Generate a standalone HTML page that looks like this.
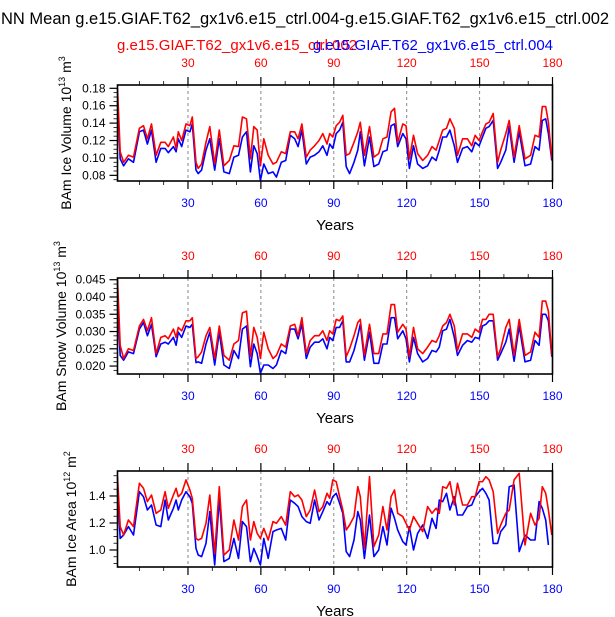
<!DOCTYPE html>
<html><head><meta charset="utf-8"><style>
html,body{margin:0;padding:0;background:#fff;width:615px;height:617px;overflow:hidden}
svg{display:block;font-family:"Liberation Sans",sans-serif}
</style></head><body>
<svg id="chart" width="615" height="617" xmlns="http://www.w3.org/2000/svg">
<text x="1" y="24" font-size="16.5" fill="#000">NN Mean g.e15.GIAF.T62_gx1v6.e15_ctrl.004-g.e15.GIAF.T62_gx1v6.e15_ctrl.002</text>
<text x="117" y="50" font-size="15" fill="#ff0000">g.e15.GIAF.T62_gx1v6.e15_ctrl.002</text>
<text x="553" y="50" font-size="15" fill="#0000ff" text-anchor="end">g.e15.GIAF.T62_gx1v6.e15_ctrl.004</text>
</svg>
<script>
const years=[1,2.1,3.5,5.5,7.6,10,11.7,13.3,15,16.9,18.8,20.6,21.9,24,25.1,26,27.4,29.2,30.8,31.8,33.3,34.2,35.6,37.4,39,41,42.9,44.8,47,48.9,50.8,52.4,54.1,55.7,57.1,58.5,59.8,61.2,63,65,66.4,68.4,70.2,72.1,73.9,75.3,76.9,78.7,80.3,82.1,83.9,85.5,87.2,88.3,89.6,91,92.4,93.7,95.1,96.5,98.3,99.9,100.9,102.6,104.7,106.5,108.5,110.2,111.9,113.6,115,116.3,118.4,119.7,121.1,122.8,124.5,126.6,128.6,130.4,132.1,133.4,134.8,136.4,137.8,139.6,140.9,143,145,146.8,148.2,149.8,151.2,152.6,153.9,155.6,157.4,158.7,160.8,162.2,164.2,166.3,168.7,171,172.8,174.5,175.8,177.2,178.3,179.7];
const xTicks=[30,60,90,120,150,180];
const iceVolRed=[0.180,0.107,0.095,0.103,0.101,0.134,0.137,0.122,0.139,0.103,0.118,0.118,0.113,0.124,0.111,0.130,0.120,0.139,0.137,0.147,0.095,0.088,0.093,0.118,0.136,0.093,0.132,0.091,0.097,0.114,0.113,0.147,0.145,0.099,0.136,0.132,0.091,0.122,0.103,0.093,0.095,0.107,0.105,0.130,0.130,0.122,0.139,0.101,0.109,0.114,0.120,0.128,0.116,0.128,0.124,0.137,0.141,0.149,0.103,0.105,0.118,0.130,0.141,0.103,0.136,0.101,0.105,0.122,0.124,0.153,0.157,0.118,0.139,0.137,0.099,0.126,0.105,0.097,0.103,0.113,0.109,0.120,0.132,0.134,0.145,0.134,0.103,0.122,0.122,0.114,0.126,0.120,0.130,0.139,0.141,0.151,0.095,0.109,0.128,0.143,0.101,0.137,0.099,0.103,0.126,0.124,0.159,0.159,0.141,0.099];
const iceVolBlue=[0.164,0.099,0.091,0.099,0.095,0.130,0.132,0.116,0.132,0.095,0.111,0.111,0.106,0.113,0.107,0.122,0.113,0.132,0.130,0.139,0.086,0.082,0.086,0.109,0.122,0.086,0.122,0.084,0.082,0.101,0.103,0.124,0.130,0.084,0.114,0.105,0.074,0.093,0.082,0.084,0.078,0.095,0.097,0.126,0.122,0.113,0.132,0.093,0.101,0.103,0.107,0.114,0.103,0.116,0.111,0.128,0.132,0.141,0.090,0.082,0.095,0.109,0.130,0.091,0.124,0.090,0.093,0.107,0.109,0.137,0.139,0.113,0.128,0.122,0.088,0.114,0.093,0.088,0.091,0.101,0.097,0.109,0.124,0.124,0.132,0.114,0.095,0.111,0.113,0.107,0.118,0.114,0.124,0.134,0.136,0.143,0.088,0.095,0.109,0.136,0.095,0.130,0.091,0.093,0.113,0.109,0.143,0.145,0.128,0.097];
const snowVolRed=[0.0450,0.0260,0.0222,0.0250,0.0245,0.0316,0.0335,0.0302,0.0340,0.0236,0.0283,0.0288,0.0279,0.0307,0.0283,0.0312,0.0302,0.0331,0.0331,0.0340,0.0222,0.0227,0.0241,0.0288,0.0312,0.0222,0.0316,0.0231,0.0217,0.0264,0.0274,0.0354,0.0359,0.0227,0.0312,0.0283,0.0222,0.0298,0.0250,0.0222,0.0231,0.0264,0.0255,0.0316,0.0321,0.0288,0.0340,0.0236,0.0274,0.0288,0.0288,0.0302,0.0274,0.0302,0.0293,0.0335,0.0331,0.0345,0.0227,0.0250,0.0288,0.0326,0.0335,0.0231,0.0321,0.0236,0.0236,0.0293,0.0293,0.0378,0.0378,0.0298,0.0321,0.0307,0.0227,0.0312,0.0250,0.0236,0.0255,0.0274,0.0269,0.0288,0.0316,0.0326,0.0350,0.0316,0.0245,0.0293,0.0293,0.0283,0.0307,0.0298,0.0335,0.0335,0.0350,0.0350,0.0227,0.0250,0.0312,0.0335,0.0231,0.0335,0.0231,0.0241,0.0298,0.0283,0.0388,0.0388,0.0359,0.0231];
const snowVolBlue=[0.0383,0.0231,0.0217,0.0241,0.0236,0.0307,0.0326,0.0288,0.0321,0.0227,0.0264,0.0269,0.0264,0.0283,0.0260,0.0298,0.0283,0.0316,0.0312,0.0321,0.0210,0.0212,0.0208,0.0264,0.0298,0.0203,0.0298,0.0203,0.0193,0.0245,0.0222,0.0307,0.0316,0.0198,0.0264,0.0236,0.0179,0.0203,0.0203,0.0193,0.0203,0.0245,0.0236,0.0307,0.0307,0.0279,0.0321,0.0222,0.0255,0.0269,0.0269,0.0279,0.0250,0.0283,0.0274,0.0312,0.0312,0.0331,0.0212,0.0212,0.0245,0.0288,0.0321,0.0217,0.0298,0.0208,0.0208,0.0264,0.0264,0.0340,0.0340,0.0279,0.0302,0.0279,0.0212,0.0283,0.0236,0.0212,0.0222,0.0245,0.0241,0.0255,0.0302,0.0307,0.0335,0.0283,0.0231,0.0260,0.0274,0.0269,0.0283,0.0279,0.0316,0.0321,0.0331,0.0331,0.0217,0.0236,0.0269,0.0307,0.0214,0.0316,0.0212,0.0217,0.0274,0.0260,0.0350,0.0350,0.0331,0.0227];
const iceAreaRed=[1.543,1.173,1.111,1.222,1.173,1.494,1.457,1.358,1.407,1.272,1.296,1.432,1.309,1.407,1.457,1.395,1.420,1.519,1.444,1.383,1.086,1.074,1.086,1.198,1.407,0.975,1.469,0.963,1.000,1.222,1.074,1.321,1.370,1.074,1.210,1.123,1.086,1.160,1.074,1.210,1.198,1.247,1.185,1.432,1.395,1.407,1.370,1.247,1.296,1.444,1.284,1.321,1.420,1.383,1.519,1.506,1.395,1.296,1.148,1.185,1.247,1.469,1.395,1.012,1.543,1.025,1.111,1.321,1.148,1.395,1.444,1.272,1.247,1.198,1.148,1.247,1.198,1.136,1.321,1.272,1.309,1.272,1.469,1.457,1.506,1.333,1.494,1.333,1.333,1.395,1.395,1.506,1.506,1.543,1.519,1.432,1.123,1.185,1.272,1.296,1.519,1.568,1.037,1.272,1.185,1.235,1.469,1.420,1.296,1.111];
const iceAreaBlue=[1.444,1.086,1.111,1.173,1.111,1.432,1.395,1.296,1.333,1.185,1.173,1.370,1.222,1.309,1.370,1.296,1.370,1.432,1.395,1.346,1.012,0.963,0.951,1.049,1.284,0.889,1.383,0.914,0.938,1.086,0.938,1.210,1.173,0.914,1.012,0.951,0.889,1.086,0.938,1.136,1.148,1.160,1.074,1.370,1.346,1.321,1.247,1.210,1.198,1.370,1.222,1.284,1.358,1.333,1.395,1.420,1.346,1.272,0.988,0.951,1.074,1.284,1.222,0.938,1.259,0.951,1.000,1.173,1.037,1.309,1.235,1.148,1.062,1.037,1.173,1.000,1.123,1.185,1.086,1.235,1.160,1.370,1.358,1.420,1.296,1.395,1.259,1.259,1.321,1.333,1.395,1.432,1.457,1.420,1.370,1.049,1.049,1.136,1.185,1.469,1.481,0.988,1.111,1.074,1.074,1.358,1.309,1.222,1.037];
const p1Ticks=[0.08,0.10,0.12,0.14,0.16,0.18];
const p2Ticks=[0.020,0.025,0.030,0.035,0.040,0.045];
const p3Ticks=[1.0,1.2,1.4];

const NS='http://www.w3.org/2000/svg';
const svg=document.getElementById('chart');
function mk(tag,attrs,parent){const e=document.createElementNS(NS,tag);for(const k in attrs)e.setAttribute(k,attrs[k]);(parent||svg).appendChild(e);return e;}
const X0=117.5,X1=552.5,XMIN=1,XMAX=180;
function xs(v){return X0+(v-XMIN)/(XMAX-XMIN)*(X1-X0);}

function panel(cfg){
  const g=mk('g',{});
  
  
  const top=cfg.top,bot=top+96;
  const ys=v=>bot-(v-cfg.ymin)/(cfg.ymax-cfg.ymin)*(bot-top);
  xTicks.forEach(t=>{if(t<180){const l=mk('line',{x1:xs(t),x2:xs(t),y1:top,y2:bot,stroke:'#888','stroke-width':1,'stroke-dasharray':'3,3'},g);
    
    }});
  [[cfg.red,'#ff0000','series-red'],[cfg.blue,'#0000ff','series-blue']].reverse().forEach(([arr,c,n])=>{
    const n2=Math.min(arr.length,years.length);let d='';
    for(let i=0;i<n2;i++){let v=Math.max(cfg.ymin,Math.min(cfg.ymax,arr[i]));d+=(i?'L':'M')+xs(years[i]).toFixed(1)+','+ys(v).toFixed(1);}
    const p=mk('path',{d:d,fill:'none',stroke:c,'stroke-width':1.6,'stroke-linejoin':'round'},g);
    
    
  });
  const r=mk('rect',{x:X0,y:top,width:X1-X0,height:bot-top,fill:'none',stroke:'#000','stroke-width':1.6},g);
  
  
  for(let t=10;t<=180;t+=10){const maj=t%30===0;const L=maj?8:4;
    mk('line',{x1:xs(t),x2:xs(t),y1:top-L,y2:top,stroke:'#000','stroke-width':maj?1.2:0.8},g);
    mk('line',{x1:xs(t),x2:xs(t),y1:bot,y2:bot+L,stroke:'#000','stroke-width':maj?1.2:0.8},g);}
  xTicks.forEach(t=>{
    const a=mk('text',{x:xs(t),y:top-18,'font-size':12,fill:'#ff0000','text-anchor':'middle'},g);a.textContent=t;
    
    
    const b=mk('text',{x:xs(t),y:bot+26,'font-size':12,fill:'#0000ff','text-anchor':'middle'},g);b.textContent=t;
    
    
  });
  const xt=mk('text',{x:335,y:bot+49,'font-size':15,fill:'#000','text-anchor':'middle'},g);xt.textContent='Years';
  
  
  const step=(cfg.ticks[1]-cfg.ticks[0])/4;
  for(let v=cfg.ticks[0]-4*step;v<=cfg.ymax+1e-9;v+=step){if(v<cfg.ymin-1e-9)continue;
    const maj=cfg.ticks.some(t=>Math.abs(t-v)<1e-9);const L=maj?8:4;
    mk('line',{x1:X0-L,x2:X0,y1:ys(v),y2:ys(v),stroke:'#000','stroke-width':maj?1.2:0.8},g);}
  cfg.ticks.forEach(t=>{const a=mk('text',{x:X0-12,y:ys(t)+4,'font-size':12,fill:'#000','text-anchor':'end'},g);
    a.textContent=t.toFixed(cfg.dec);
    
    });
  const cy=(top+bot)/2;
  const yt=mk('text',{x:0,y:0,'font-size':14,fill:'#000','text-anchor':'middle',transform:`translate(${cfg.tx},${cy}) rotate(-90)`},g);
  yt.innerHTML=cfg.title;
  
  
}
panel({name:'ice-volume-panel',top:85,ymin:0.0735,ymax:0.1838,red:iceVolRed,blue:iceVolBlue,ticks:p1Ticks,dec:2,tx:71,
  title:'BAm Ice Volume 10<tspan font-size="9" dy="-6">13</tspan><tspan dy="6"> m</tspan><tspan font-size="9" dy="-6">3</tspan>'});
panel({name:'snow-volume-panel',top:278,ymin:0.0177,ymax:0.0455,red:snowVolRed,blue:snowVolBlue,ticks:p2Ticks,dec:3,tx:66,
  title:'BAm Snow Volume 10<tspan font-size="9" dy="-6">13</tspan><tspan dy="6"> m</tspan><tspan font-size="9" dy="-6">3</tspan>'});
panel({name:'ice-area-panel',top:471,ymin:0.874,ymax:1.585,red:iceAreaRed,blue:iceAreaBlue,ticks:p3Ticks,dec:1,tx:76,
  title:'BAm Ice Area 10<tspan font-size="9" dy="-6">12</tspan><tspan dy="6"> m</tspan><tspan font-size="9" dy="-6">2</tspan>'});
</script>
</body></html>
